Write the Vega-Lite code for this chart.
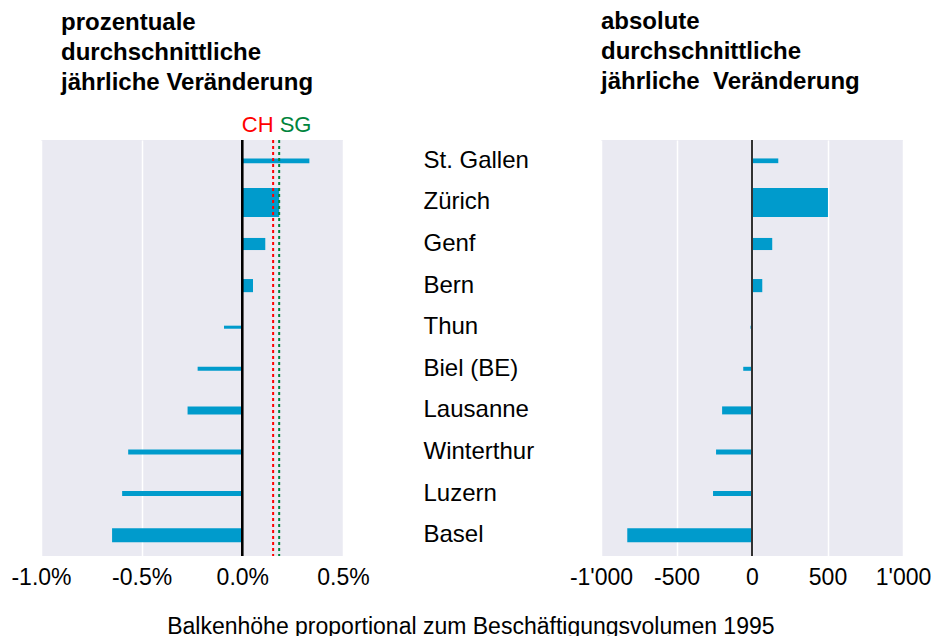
{
  "$schema": "https://vega.github.io/schema/vega-lite/v6.json",
  "padding": {"left": 10, "top": 10, "right": 0, "bottom": 0},
  "background": "white",
  "datasets": {
    "cities": [
      {"city": "St. Gallen", "pct": 0.333, "abs": 174, "emp": 45},
      {"city": "Zürich", "pct": 0.183, "abs": 503, "emp": 276},
      {"city": "Genf", "pct": 0.114, "abs": 134, "emp": 115},
      {"city": "Bern", "pct": 0.053, "abs": 68, "emp": 125},
      {"city": "Thun", "pct": -0.091, "abs": -10, "emp": 29},
      {"city": "Biel (BE)", "pct": -0.222, "abs": -58, "emp": 38},
      {"city": "Lausanne", "pct": -0.272, "abs": -198, "emp": 76},
      {"city": "Winterthur", "pct": -0.567, "abs": -238, "emp": 48},
      {"city": "Luzern", "pct": -0.597, "abs": -258, "emp": 48},
      {"city": "Basel", "pct": -0.647, "abs": -826, "emp": 133}
    ],
    "refs": [
      {"name": "CH", "v": 0.153},
      {"name": "SG", "v": 0.183}
    ]
  },
  "title": {
    "text": "Balkenhöhe proportional zum Beschäftigungsvolumen 1995",
    "orient": "bottom",
    "anchor": "middle",
    "font": "Liberation Sans",
    "fontSize": 23,
    "fontWeight": "normal",
    "color": "black",
    "offset": 27
  },
  "config": {
    "font": "Liberation Sans",
    "view": {"fill": "#eaeaf2", "stroke": null},
    "axis": {"labelFont": "Liberation Sans", "labelColor": "black", "domain": false, "ticks": false}
  },
  "hconcat": [
    {
      "width": 302,
      "height": 416,
      "title": {
        "text": ["prozentuale", "durchschnittliche", "jährliche Veränderung"],
        "anchor": "start",
        "frame": "group",
        "dx": 20,
        "fontSize": 24,
        "fontWeight": "bold",
        "color": "black",
        "lineHeight": 30,
        "offset": 18
      },
      "layer": [
        {
          "data": {"name": "cities"},
          "mark": {"type": "bar", "color": "#009bcc"},
          "encoding": {
            "y": {
              "field": "city", "type": "nominal",
              "sort": ["St. Gallen", "Zürich", "Genf", "Bern", "Thun", "Biel (BE)", "Lausanne", "Winterthur", "Luzern", "Basel"],
              "scale": {"paddingInner": 0, "paddingOuter": 0},
              "axis": null
            },
            "x": {
              "field": "pct", "type": "quantitative",
              "scale": {"domain": [-1.0, 0.5], "nice": false, "zero": true},
              "axis": {
                "values": [-1.0, -0.5, 0, 0.5],
                "labelExpr": "(datum.value < 0 ? '-' : '') + format(abs(datum.value), '.1f') + '%'",
                "labelFlush": false,
                "labelFontSize": 23,
                "labelPadding": 10,
                "grid": true,
                "gridColor": "white",
                "gridWidth": 1.5,
                "title": null
              }
            },
            "size": {
              "field": "emp", "type": "quantitative",
              "scale": {"type": "linear", "domain": [0, 276], "range": [0, 29], "zero": true},
              "legend": null
            }
          }
        },
        {
          "data": {"name": "cities"},
          "mark": {"type": "rule", "color": "black", "strokeWidth": 1.5},
          "encoding": {"x": {"datum": 0, "type": "quantitative", "axis": null}}
        },
        {
          "data": {"name": "refs"},
          "mark": {"type": "rule", "strokeDash": [3, 3], "strokeWidth": 2},
          "encoding": {
            "x": {
              "field": "v", "type": "quantitative",
              "axis": {
                "orient": "top",
                "values": [0.153, 0.183],
                "labelExpr": "datum.value < 0.17 ? 'CH' : 'SG'",
                "labelColor": {"expr": "datum.value < 0.17 ? '#ff0000' : '#00843d'"},
                "labelAlign": {"expr": "datum.value < 0.17 ? 'right' : 'left'"},
                "labelFontSize": 22,
                "labelPadding": 4,
                "labelFlush": false,
                "labelOverlap": false,
                "grid": false,
                "title": null
              }
            },
            "color": {
              "field": "name", "type": "nominal",
              "scale": {"domain": ["CH", "SG"], "range": ["#ff0000", "#00843d"]},
              "legend": null
            }
          }
        }
      ],
      "resolve": {"axis": {"x": "independent"}}
    },
    {
      "width": 302,
      "height": 416,
      "title": {
        "text": ["absolute", "durchschnittliche", "jährliche\u00a0 Veränderung"],
        "anchor": "start",
        "frame": "group",
        "fontSize": 24,
        "fontWeight": "bold",
        "color": "black",
        "lineHeight": 30,
        "offset": 45
      },
      "layer": [
        {
          "data": {"name": "cities"},
          "mark": {"type": "bar", "color": "#009bcc"},
          "encoding": {
            "y": {
              "field": "city", "type": "nominal",
              "sort": ["St. Gallen", "Zürich", "Genf", "Bern", "Thun", "Biel (BE)", "Lausanne", "Winterthur", "Luzern", "Basel"],
              "scale": {"paddingInner": 0, "paddingOuter": 0},
              "axis": {
                "orient": "left",
                "labelAlign": "left",
                "labelPadding": 178,
                "labelFontSize": 24,
                "labelLimit": 0,
                "title": null
              }
            },
            "x": {
              "field": "abs", "type": "quantitative",
              "scale": {"domain": [-1000, 1000], "nice": false},
              "axis": {
                "values": [-1000, -500, 0, 500, 1000],
                "labelExpr": "(datum.value < 0 ? '-' : '') + replace(format(abs(datum.value), ','), ',', \"'\")",
                "labelFlush": false,
                "labelFontSize": 23,
                "labelPadding": 10,
                "grid": true,
                "gridColor": "white",
                "gridWidth": 1.5,
                "title": null
              }
            },
            "size": {
              "field": "emp", "type": "quantitative",
              "scale": {"type": "linear", "domain": [0, 276], "range": [0, 29], "zero": true},
              "legend": null
            }
          }
        },
        {
          "data": {"name": "cities"},
          "mark": {"type": "rule", "color": "#333333", "strokeWidth": 1.5},
          "encoding": {"x": {"datum": 0, "type": "quantitative"}}
        }
      ]
    }
  ],
  "spacing": 53
}
